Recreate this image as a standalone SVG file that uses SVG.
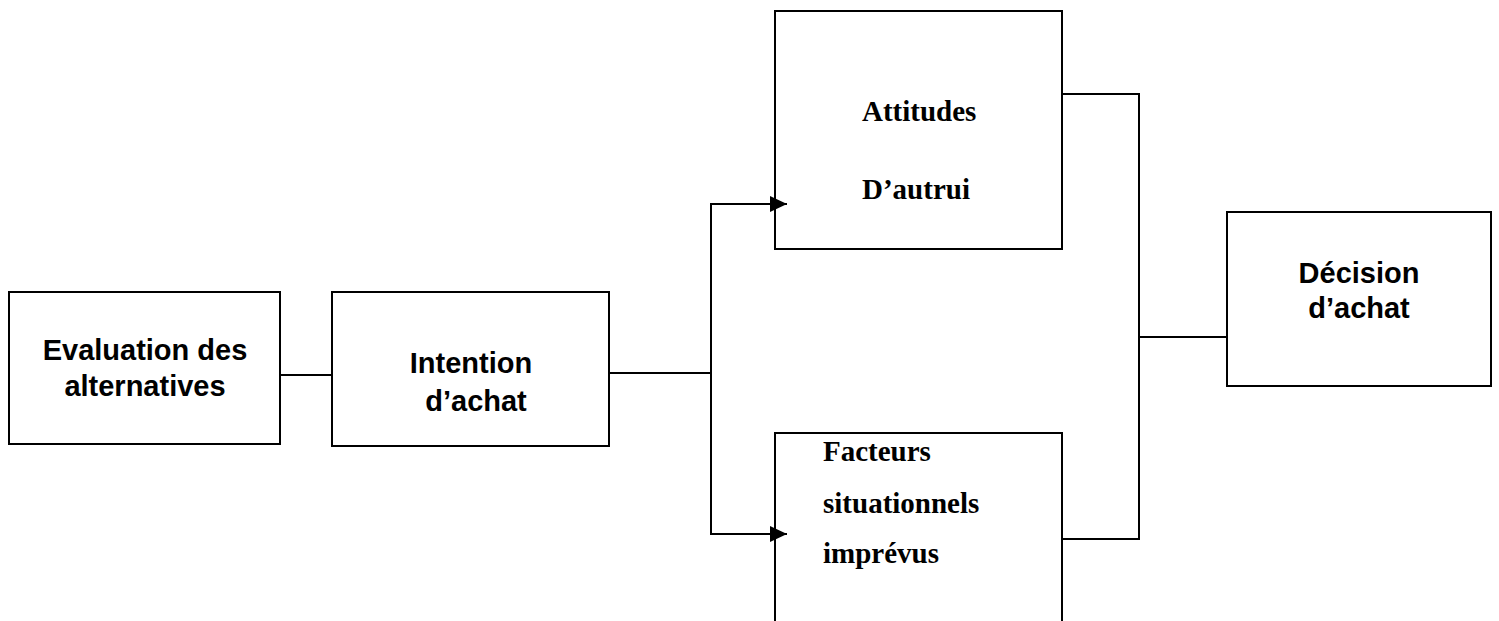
<svg xmlns="http://www.w3.org/2000/svg" width="1499" height="621" viewBox="0 0 1499 621">
  <defs>
    <marker id="arrow" markerUnits="userSpaceOnUse" markerWidth="20" markerHeight="18" refX="17" refY="8" orient="auto">
      <polygon points="0,0 17,8 0,16" fill="#000"/>
    </marker>
  </defs>
  <style>
    .box { fill: #fff; stroke: #000; stroke-width: 2; }
    .sans { font-family: "Liberation Sans", Arial, sans-serif; font-weight: bold; font-size: 29px; fill: #000; }
    .serif { font-family: "Liberation Serif", "Times New Roman", serif; font-weight: bold; font-size: 29px; fill: #000; }
    .wire { fill: none; stroke: #000; stroke-width: 2; }
  </style>

  <g id="evaluation">
    <rect class="box" x="9" y="292" width="271" height="152"/>
    <text class="sans" x="145" y="360" text-anchor="middle">Evaluation des</text>
    <text class="sans" x="145" y="396" text-anchor="middle">alternatives</text>
  </g>

  <g id="intention">
    <rect class="box" x="332" y="292" width="277" height="154"/>
    <text class="sans" x="471" y="373" text-anchor="middle">Intention</text>
    <text class="sans" x="476" y="411" text-anchor="middle">d’achat</text>
  </g>

  <g id="attitudes">
    <rect class="box" x="775" y="11" width="287" height="238"/>
    <text class="serif" x="862" y="121">Attitudes</text>
    <text class="serif" x="862" y="199">D’autrui</text>
  </g>

  <g id="facteurs">
    <rect class="box" x="775" y="433" width="287" height="200"/>
    <text class="serif" x="823" y="461">Facteurs</text>
    <text class="serif" x="823" y="513">situationnels</text>
    <text class="serif" x="823" y="563">imprévus</text>
  </g>

  <g id="decision">
    <rect class="box" x="1227" y="212" width="264" height="174"/>
    <text class="sans" x="1359" y="283" text-anchor="middle">Décision</text>
    <text class="sans" x="1359" y="318" text-anchor="middle">d’achat</text>
  </g>

  <!-- connectors last so the arrowheads sit over the box edges -->
  <g id="connectors">
    <line class="wire" x1="280" y1="375" x2="332" y2="375"/>
    <line class="wire" x1="609" y1="373" x2="711" y2="373"/>
    <polyline class="wire" points="711,373 711,204 787,204" marker-end="url(#arrow)"/>
    <polyline class="wire" points="711,373 711,534 787,534" marker-end="url(#arrow)"/>
    <polyline class="wire" points="1062,94 1139,94 1139,539 1062,539"/>
    <line class="wire" x1="1139" y1="337" x2="1227" y2="337"/>
  </g>
</svg>
